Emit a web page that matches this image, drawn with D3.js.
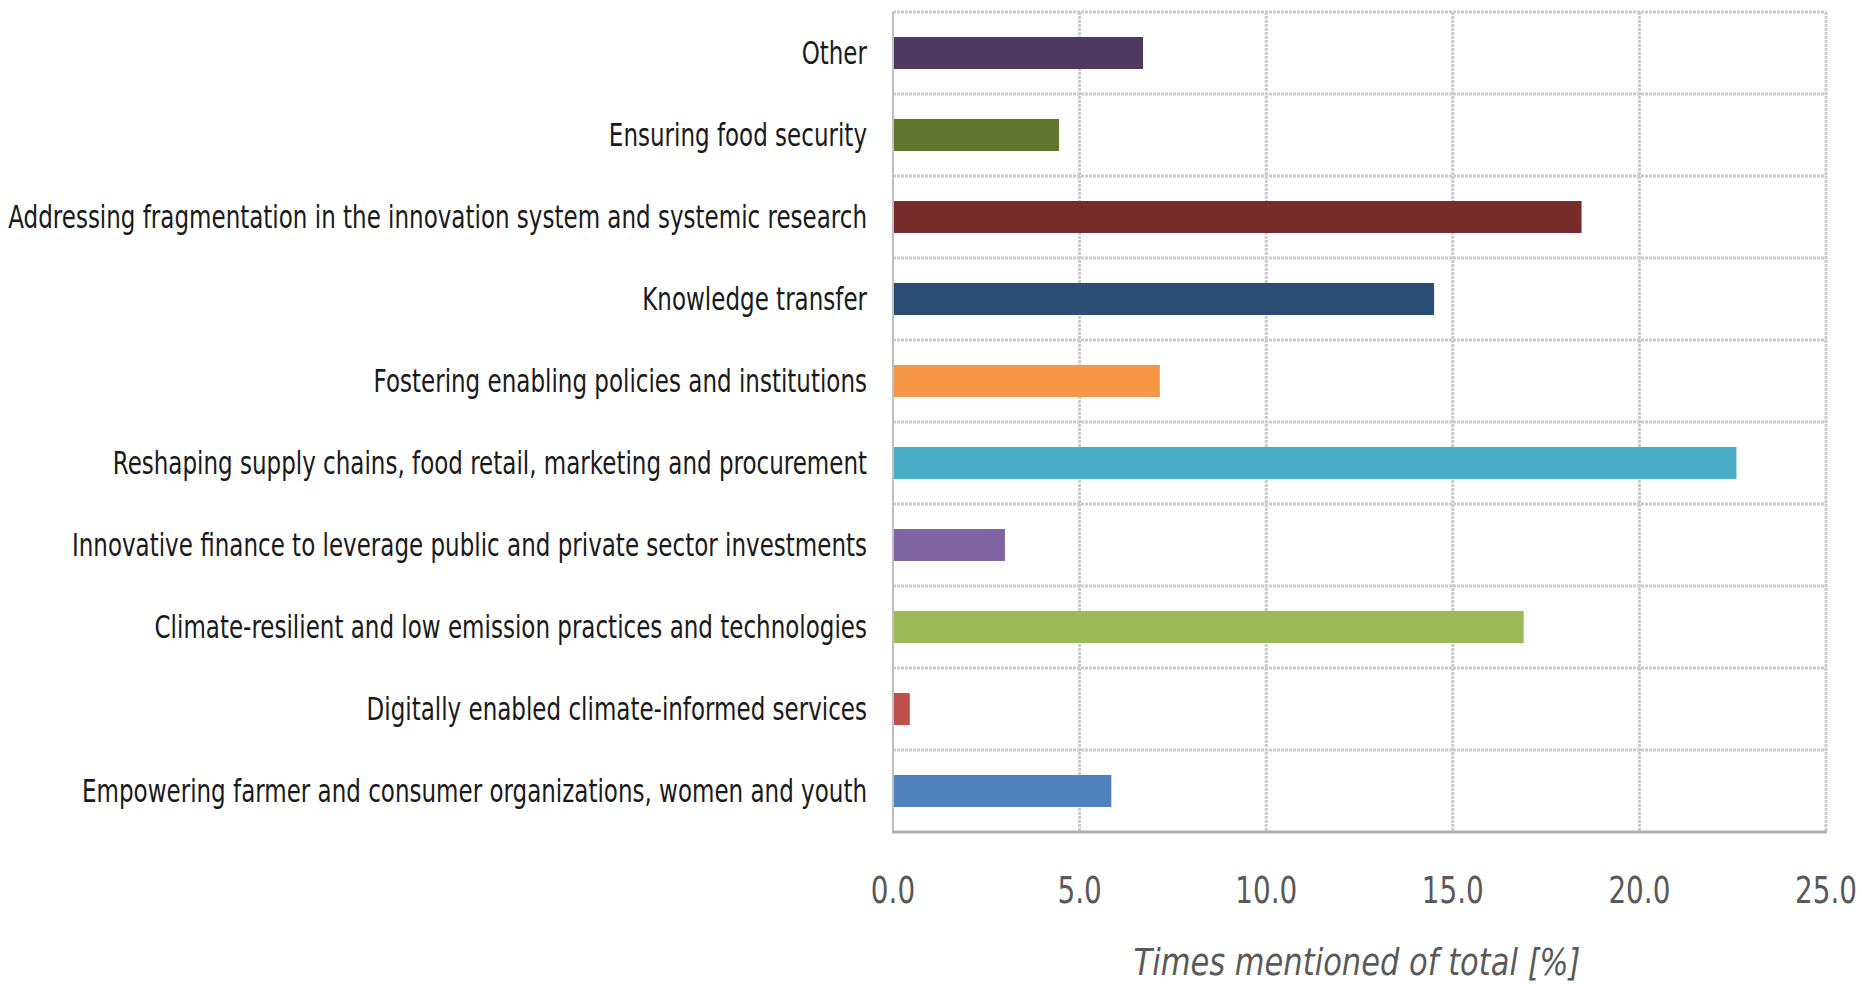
<!DOCTYPE html>
<html>
<head>
<meta charset="utf-8">
<title>Times mentioned of total</title>
<script src="https://cdn.jsdelivr.net/npm/d3@7"></script>
<style>
  html, body { margin: 0; padding: 0; background: #fff; }
  svg { display: block; }
</style>
</head>
<body>
<svg id="chart"></svg>
<script>
// categories, top to bottom as in the figure
const categories = [
  'Other',
  'Ensuring food security',
  'Addressing fragmentation in the innovation system and systemic research',
  'Knowledge transfer',
  'Fostering enabling policies and institutions',
  'Reshaping supply chains, food retail, marketing and procurement',
  'Innovative finance to leverage public and private sector investments',
  'Climate-resilient and low emission practices and technologies',
  'Digitally enabled climate-informed services',
  'Empowering farmer and consumer organizations, women and youth'
];
// share of mentions [%]
const values = [6.7, 4.45, 18.45, 14.5, 7.15, 22.6, 3.0, 16.9, 0.45, 5.85];
const barColors = ['#4e3a60', '#61752f', '#772b2b', '#2a4d74', '#f79646',
                   '#4bacc6', '#8064a2', '#9bbb59', '#c0504d', '#4f81bd'];
const xTicks = [0, 5, 10, 15, 20, 25];
const xTitle = 'Times mentioned of total [%]';

const width = 1862, height = 984;
const plot = { left: 893, right: 1826, top: 12, bottom: 832 };
const font = '"Liberation Sans Narrow", "DejaVu Sans Condensed", "Arial Narrow", sans-serif';

const svg = d3.select('#chart').attr('width', width).attr('height', height);

const x = d3.scaleLinear().domain([0, 25]).range([plot.left, plot.right]);
const y = d3.scaleBand().domain(categories).range([plot.top, plot.bottom])
  .paddingInner(0.61).paddingOuter(0.305);
const step = y.step();

// squeeze text horizontally (original font is a narrow Calibri)
function squeeze(sel, sx) {
  sel.each(function () {
    const t = d3.select(this);
    const tx = +t.attr('x'), ty = +t.attr('y');
    t.attr('x', 0).attr('y', 0)
      .attr('transform', `translate(${tx},${ty}) scale(${sx},1)`);
  });
}

// grid: vertical lines at ticks (except 0), horizontal at band boundaries
const grid = svg.append('g');
grid.selectAll('line.v')
  .data(xTicks.filter((d) => d > 0))
  .enter().append('line')
  .attr('class', 'v')
  .attr('x1', (d) => x(d)).attr('x2', (d) => x(d))
  .attr('y1', plot.top).attr('y2', plot.bottom)
  .style('stroke', '#cccccc').style('stroke-width', 3)
  .style('stroke-dasharray', '3,1');
grid.selectAll('line.h')
  .data(categories)
  .enter().append('line')
  .attr('class', 'h')
  .attr('x1', plot.left).attr('x2', plot.right)
  .attr('y1', (d) => y(d) - y.paddingOuter() * step)
  .attr('y2', (d) => y(d) - y.paddingOuter() * step)
  .style('stroke', '#cccccc').style('stroke-width', 3)
  .style('stroke-dasharray', '3,1');

// bars
svg.append('g').selectAll('rect')
  .data(categories)
  .enter().append('rect')
  .attr('x', x(0))
  .attr('y', (d) => y(d))
  .attr('width', (d, i) => x(values[i]) - x(0))
  .attr('height', y.bandwidth())
  .style('fill', (d, i) => barColors[i]);

// axis lines
svg.append('line')
  .attr('x1', plot.left).attr('x2', plot.left)
  .attr('y1', plot.top).attr('y2', plot.bottom)
  .style('stroke', '#bfbfbf').style('stroke-width', 2);
svg.append('line')
  .attr('x1', plot.left - 1).attr('x2', plot.right + 1)
  .attr('y1', plot.bottom).attr('y2', plot.bottom)
  .style('stroke', '#b0b0b0').style('stroke-width', 3);

// x tick labels
const ticks = svg.append('g').selectAll('text')
  .data(xTicks)
  .enter().append('text')
  .attr('x', (d) => x(d))
  .attr('y', 903)
  .attr('text-anchor', 'middle')
  .text((d) => d3.format('.1f')(d))
  .style('font-family', font)
  .style('font-size', '37px')
  .style('fill', '#595959');
// "20.0" is about 62px wide in the figure
squeeze(ticks, 62 / ticks.nodes()[4].getComputedTextLength());

// x axis title
const title = svg.append('text')
  .attr('x', 1357)
  .attr('y', 975)
  .attr('text-anchor', 'middle')
  .text(xTitle)
  .style('font-family', font)
  .style('font-style', 'italic')
  .style('font-size', '37px')
  .style('fill', '#595959');
squeeze(title, 447 / title.node().getComputedTextLength());

// category labels
const labels = svg.append('g').selectAll('text')
  .data(categories)
  .enter().append('text')
  .attr('x', 867)
  .attr('y', (d) => y(d) + y.bandwidth() / 2)
  .attr('dy', '0.36em')
  .attr('text-anchor', 'end')
  .text((d) => d)
  .style('font-family', font)
  .style('font-size', '31.5px')
  .style('fill', '#1a1a1a');
const longest = d3.max(labels.nodes(), (n) => n.getComputedTextLength());
squeeze(labels, 859 / longest);
</script>
</body>
</html>
